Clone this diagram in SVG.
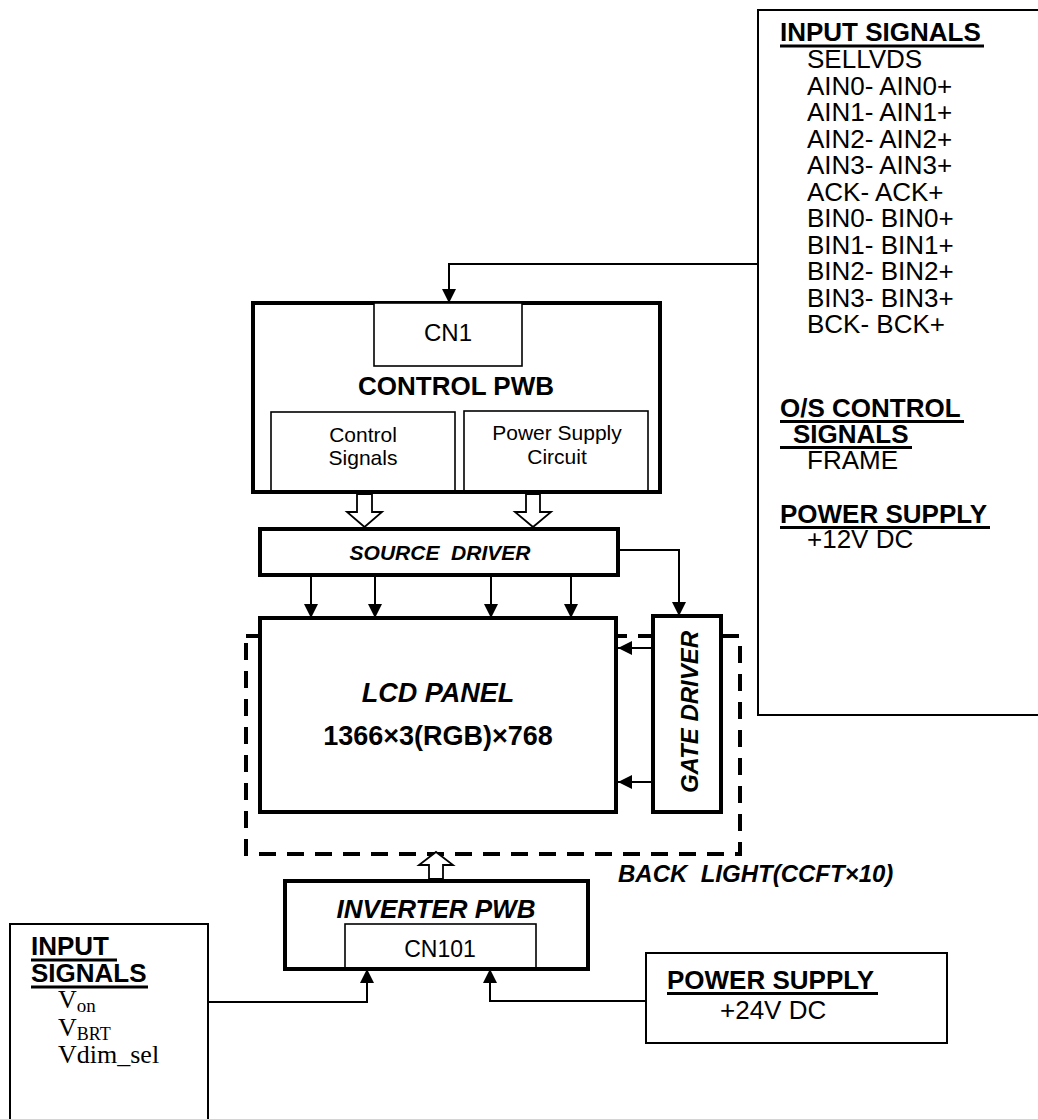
<svg xmlns="http://www.w3.org/2000/svg" width="1038" height="1119" viewBox="0 0 1038 1119">
<style>
.thick{fill:#fff;stroke:#000;stroke-width:4}
.thin{fill:#fff;stroke:#000;stroke-width:1.6}
.frame{fill:none;stroke:#000;stroke-width:2}
.t{font-family:"Liberation Sans",Arial,sans-serif;fill:#000}
.b{font-weight:bold}
.i{font-style:italic}
.s{font-family:"Liberation Serif","Times New Roman",serif;fill:#000}
.ul{stroke:#000;stroke-width:3}
.conn{fill:none;stroke:#000;stroke-width:2}
.hollow{fill:#fff;stroke:#000;stroke-width:1.8;stroke-linejoin:miter}
.dash{fill:none;stroke:#000;stroke-width:4;stroke-dasharray:17 11}
</style>
<defs>
<marker id="ah" markerUnits="userSpaceOnUse" markerWidth="14" markerHeight="14" refX="14" refY="7" orient="auto">
<path d="M0,0 L14,7 L0,14 z" fill="#000"/>
</marker>
</defs>
<rect width="1038" height="1119" fill="#fff"/>

<g id="backlight">
<rect class="dash" x="246" y="636" width="494" height="218"/>
<text class="t b i" x="618" y="882" font-size="24" xml:space="preserve">BACK  LIGHT(CCFT×10)</text>
</g>

<g id="input-signals-right">
<rect class="frame" x="758" y="10" width="300" height="705"/>
<text class="t b" x="780" y="41" font-size="26">INPUT SIGNALS</text>
<line class="ul" x1="780" y1="46" x2="984" y2="46"/>
<g class="t" font-size="26">
<text x="807" y="68">SELLVDS</text>
<text x="807" y="94.5">AIN0- AIN0+</text>
<text x="807" y="121">AIN1- AIN1+</text>
<text x="807" y="147.5">AIN2- AIN2+</text>
<text x="807" y="174">AIN3- AIN3+</text>
<text x="807" y="200.5">ACK- ACK+</text>
<text x="807" y="227">BIN0- BIN0+</text>
<text x="807" y="253.5">BIN1- BIN1+</text>
<text x="807" y="280">BIN2- BIN2+</text>
<text x="807" y="306.5">BIN3- BIN3+</text>
<text x="807" y="333">BCK- BCK+</text>
</g>
<text class="t b" x="780" y="417" font-size="26">O/S CONTROL</text>
<line class="ul" x1="780" y1="421.5" x2="964" y2="421.5"/>
<text class="t b" x="793" y="443" font-size="26">SIGNALS</text>
<line class="ul" x1="780" y1="447.5" x2="912" y2="447.5"/>
<text class="t" x="807" y="469" font-size="26">FRAME</text>
<text class="t b" x="780" y="523" font-size="26">POWER SUPPLY</text>
<line class="ul" x1="780" y1="527.5" x2="990" y2="527.5"/>
<text class="t" x="807" y="548" font-size="26">+12V DC</text>
</g>

<g id="control-pwb">
<rect class="thick" x="253" y="303" width="407" height="189"/>
<rect class="thin" x="374" y="303" width="148" height="63"/>
<text class="t" x="448" y="341" font-size="24" text-anchor="middle">CN1</text>
<text class="t b" x="456" y="395" font-size="26" text-anchor="middle">CONTROL PWB</text>
<rect class="thin" x="271" y="412" width="184" height="80"/>
<text class="t" x="363" y="442" font-size="21" text-anchor="middle">Control</text>
<text class="t" x="363" y="465" font-size="21" text-anchor="middle">Signals</text>
<rect class="thin" x="464" y="411" width="184" height="81"/>
<text class="t" x="557" y="440" font-size="21" text-anchor="middle">Power Supply</text>
<text class="t" x="557" y="464" font-size="21" text-anchor="middle">Circuit</text>
<rect x="253" y="490" width="407" height="4" fill="#000"/>
</g>

<g id="source-driver">
<rect class="thick" x="260" y="529" width="358" height="46"/>
<text class="t b i" x="440" y="560" font-size="21" text-anchor="middle" xml:space="preserve">SOURCE  DRIVER</text>
</g>

<g id="lcd-panel">
<rect class="thick" x="260" y="618" width="356" height="194"/>
<text class="t b i" x="438" y="702" font-size="27" text-anchor="middle">LCD PANEL</text>
<text class="t b" x="438" y="745" font-size="27" text-anchor="middle">1366×3(RGB)×768</text>
</g>

<g id="gate-driver">
<rect class="thick" x="653" y="616" width="68" height="196"/>
<text class="t b i" font-size="24" text-anchor="middle" transform="translate(698,712) rotate(-90)">GATE DRIVER</text>
</g>

<g id="inverter-pwb">
<rect class="thick" x="285" y="881" width="303" height="88"/>
<text class="t b i" x="436" y="918" font-size="26" text-anchor="middle">INVERTER PWB</text>
<rect class="thin" x="345" y="924" width="191" height="45"/>
<text class="t" x="440" y="957" font-size="23" text-anchor="middle">CN101</text>
<rect x="285" y="967" width="303" height="4" fill="#000"/>
</g>

<g id="input-signals-left">
<rect class="frame" x="10" y="924" width="198" height="210"/>
<text class="t b" x="31" y="955" font-size="26">INPUT</text>
<line class="ul" x1="31" y1="960" x2="117" y2="960"/>
<text class="t b" x="31" y="982" font-size="26">SIGNALS</text>
<line class="ul" x1="31" y1="987" x2="148" y2="987"/>
<text class="s" x="58" y="1008" font-size="26">V<tspan font-size="19" dy="4">on</tspan></text>
<text class="s" x="58" y="1036" font-size="26">V<tspan font-size="18" dy="4">BRT</tspan></text>
<text class="s" x="58" y="1063" font-size="26">Vdim_sel</text>
</g>

<g id="power-supply">
<rect class="frame" x="646" y="953" width="301" height="90"/>
<text class="t b" x="667" y="989" font-size="26">POWER SUPPLY</text>
<line class="ul" x1="667" y1="993.5" x2="878" y2="993.5"/>
<text class="t" x="720" y="1019" font-size="26">+24V DC</text>
</g>

<g id="connectors">
<polyline class="conn" points="758,264 449,264 449,303" marker-end="url(#ah)"/>
<polyline class="conn" points="618,550 679,550 679,616" marker-end="url(#ah)"/>
<line class="conn" x1="311" y1="575" x2="311" y2="618" marker-end="url(#ah)"/>
<line class="conn" x1="375" y1="575" x2="375" y2="618" marker-end="url(#ah)"/>
<line class="conn" x1="491" y1="575" x2="491" y2="618" marker-end="url(#ah)"/>
<line class="conn" x1="571" y1="575" x2="571" y2="618" marker-end="url(#ah)"/>
<line class="conn" x1="653" y1="648" x2="618" y2="648" marker-end="url(#ah)"/>
<line class="conn" x1="653" y1="782" x2="618" y2="782" marker-end="url(#ah)"/>
<polyline class="conn" points="208,1002 367,1002 367,969" marker-end="url(#ah)"/>
<polyline class="conn" points="646,1001 490,1001 490,969" marker-end="url(#ah)"/>
<polygon class="hollow" points="357,494 372,494 372,512 382,512 364.5,527 347,512 357,512"/>
<polygon class="hollow" points="526,494 540,494 540,512 551,512 533,527 515,512 526,512"/>
<polygon class="hollow" points="429,879 443,879 443,865 453,865 436,852 419,865 429,865"/>
</g>
</svg>
